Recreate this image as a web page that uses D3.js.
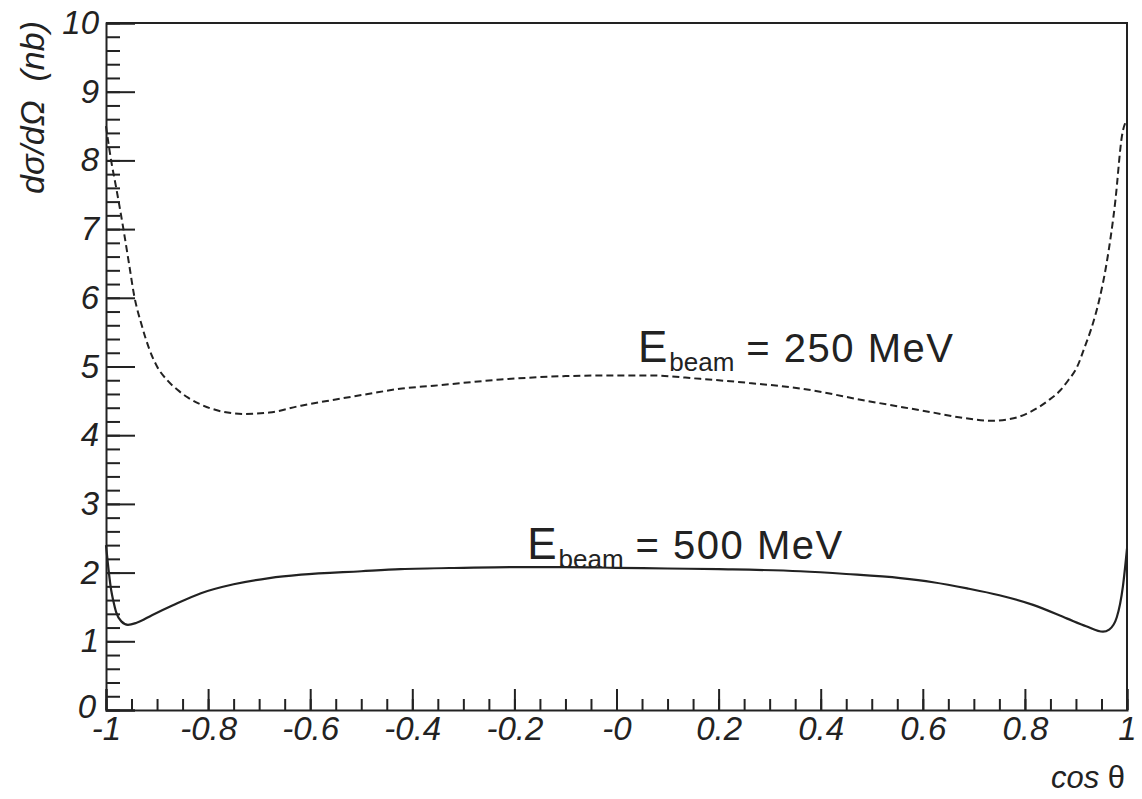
<!DOCTYPE html>
<html>
<head>
<meta charset="utf-8">
<script src="https://cdn.jsdelivr.net/npm/d3@7"></script>
<style>
  body { margin: 0; background: #fff; }
  svg text { font-family: "Liberation Sans", Arial, sans-serif; fill: #222; }
</style>
</head>
<body>
<div id="chart"></div>
<script>
// Curve values
var cos250 = [-1, -0.99, -0.98, -0.967, -0.955, -0.945, -0.93, -0.915, -0.9, -0.88, -0.86, -0.84, -0.815, -0.795, -0.73, -0.68, -0.618, -0.55, -0.487, -0.42, -0.358, -0.227, -0.1, 0, 0.066, 0.164, 0.26, 0.36, 0.49, 0.62, 0.68, 0.737, 0.78, 0.816, 0.845, 0.869, 0.885, 0.902, 0.918, 0.93, 0.945, 0.96, 0.977, 0.99, 1];
var sig250 = [8.5, 8.0, 7.6, 7.05, 6.5, 6.04, 5.6, 5.25, 5.0, 4.8, 4.66, 4.55, 4.45, 4.39, 4.31, 4.33, 4.43, 4.52, 4.6, 4.68, 4.72, 4.81, 4.86, 4.87, 4.87, 4.82, 4.76, 4.68, 4.5, 4.33, 4.25, 4.21, 4.25, 4.36, 4.5, 4.65, 4.8, 4.99, 5.3, 5.55, 5.95, 6.5, 7.4, 8.35, 8.6];

var cos500 = [-1, -0.99, -0.986, -0.98, -0.97, -0.957, -0.94, -0.91, -0.87, -0.814, -0.75, -0.68, -0.618, -0.5, -0.423, -0.3, -0.2, -0.1, 0, 0.1, 0.2, 0.36, 0.45, 0.556, 0.62, 0.687, 0.75, 0.816, 0.883, 0.92, 0.953, 0.965, 0.98, 0.992, 1];
var sig500 = [2.4, 1.75, 1.6, 1.42, 1.29, 1.24, 1.27, 1.38, 1.52, 1.70, 1.83, 1.92, 1.97, 2.02, 2.05, 2.07, 2.08, 2.08, 2.07, 2.06, 2.05, 2.02, 1.98, 1.92, 1.86, 1.77, 1.67, 1.53, 1.33, 1.22, 1.14, 1.17, 1.35, 1.8, 2.35];

var xTickVals = [-1, -0.8, -0.6, -0.4, -0.2, 0, 0.2, 0.4, 0.6, 0.8, 1];
var xTickLabels = ["-1", "-0.8", "-0.6", "-0.4", "-0.2", "-0", "0.2", "0.4", "0.6", "0.8", "1"];
var yTickVals = [0, 1, 2, 3, 4, 5, 6, 7, 8, 9, 10];

var svgWidth = 1142;
var svgHeight = 799;

var margin = { top: 23, right: 15, bottom: 89, left: 106 };
var width = svgWidth - margin.left - margin.right;
var height = svgHeight - margin.top - margin.bottom;

var svg = d3.select("#chart")
    .append("svg")
    .attr("width", svgWidth)
    .attr("height", svgHeight);

var chartGroup = svg.append("g")
    .attr("transform", `translate(${margin.left}, ${margin.top})`);

var x = d3.scaleLinear().domain([-1, 1]).range([0, width]);
var y = d3.scaleLinear().domain([0, 10]).range([height, 0]);

// minor ticks
chartGroup.append("g")
    .attr("transform", `translate(0, ${height})`)
    .call(d3.axisBottom(x).tickValues(d3.range(-1, 1.0001, 0.05)).tickSize(-11).tickFormat(""))
    .call(g => g.select(".domain").remove());
chartGroup.append("g")
    .call(d3.axisLeft(y).tickValues(d3.range(0, 10.0001, 0.2)).tickSize(-14).tickFormat(""))
    .call(g => g.select(".domain").remove());

// major ticks with labels
var xAxis = chartGroup.append("g")
    .attr("transform", `translate(0, ${height})`)
    .call(d3.axisBottom(x).tickValues(xTickVals).tickSize(-21).tickPadding(7)
        .tickFormat((d, i) => xTickLabels[i]));
var yAxis = chartGroup.append("g")
    .call(d3.axisLeft(y).tickValues(yTickVals).tickSize(-29).tickPadding(7).tickFormat(d3.format("d")));

chartGroup.selectAll(".tick line").attr("stroke", "#222").attr("stroke-width", 2);
chartGroup.selectAll(".domain").attr("stroke", "#222").attr("stroke-width", 2);
chartGroup.selectAll(".tick text")
    .attr("font-size", "33px")
    .attr("font-style", "italic")
    .attr("fill", "#222");

// the "0" label sits a little lower-left, clear of "-1"
yAxis.selectAll(".tick text").filter(d => d === 0)
    .attr("x", -10)
    .attr("dy", "0.22em");

// frame top and right
chartGroup.append("path")
    .attr("d", `M0,0H${width}V${height}`)
    .attr("fill", "none")
    .attr("stroke", "#222")
    .attr("stroke-width", 2);

var line = d3.line()
    .x(d => x(d[0]))
    .y(d => y(d[1]))
    .curve(d3.curveMonotoneX);

chartGroup.append("path")
    .datum(d3.zip(cos250, sig250))
    .attr("d", line)
    .attr("fill", "none")
    .attr("stroke", "#222")
    .attr("stroke-width", 2)
    .attr("stroke-dasharray", "7,4");

chartGroup.append("path")
    .datum(d3.zip(cos500, sig500))
    .attr("d", line)
    .attr("fill", "none")
    .attr("stroke", "#222")
    .attr("stroke-width", 2.2);

// Annotations
function beamLabel(cx, cy, energy) {
    var t = chartGroup.append("text")
        .attr("x", x(cx))
        .attr("y", y(cy))
        .attr("fill", "#333");
    t.append("tspan").attr("font-size", "44px").text("E");
    t.append("tspan").attr("font-size", "26px").attr("dy", 9).attr("dx", 2).text("beam");
    t.append("tspan").attr("font-size", "40px").attr("dy", -9).attr("dx", 12)
        .attr("letter-spacing", "1.5px").text("= " + energy + " MeV");
}
beamLabel(0.042, 5.07, "250");
beamLabel(-0.175, 2.2, "500");

// Axis titles
svg.append("text")
    .attr("transform", `translate(44, 194) rotate(-90)`)
    .attr("font-size", "34px")
    .attr("font-style", "italic")
    .attr("xml:space", "preserve")
    .style("white-space", "pre")
    .text("dσ/dΩ  (nb)");

var xt = svg.append("text")
    .attr("x", 1125)
    .attr("y", 788)
    .attr("text-anchor", "end")
    .attr("font-size", "31px");
xt.append("tspan").attr("font-style", "italic").text("cos ");
xt.append("tspan").text("θ");
</script>
</body>
</html>
